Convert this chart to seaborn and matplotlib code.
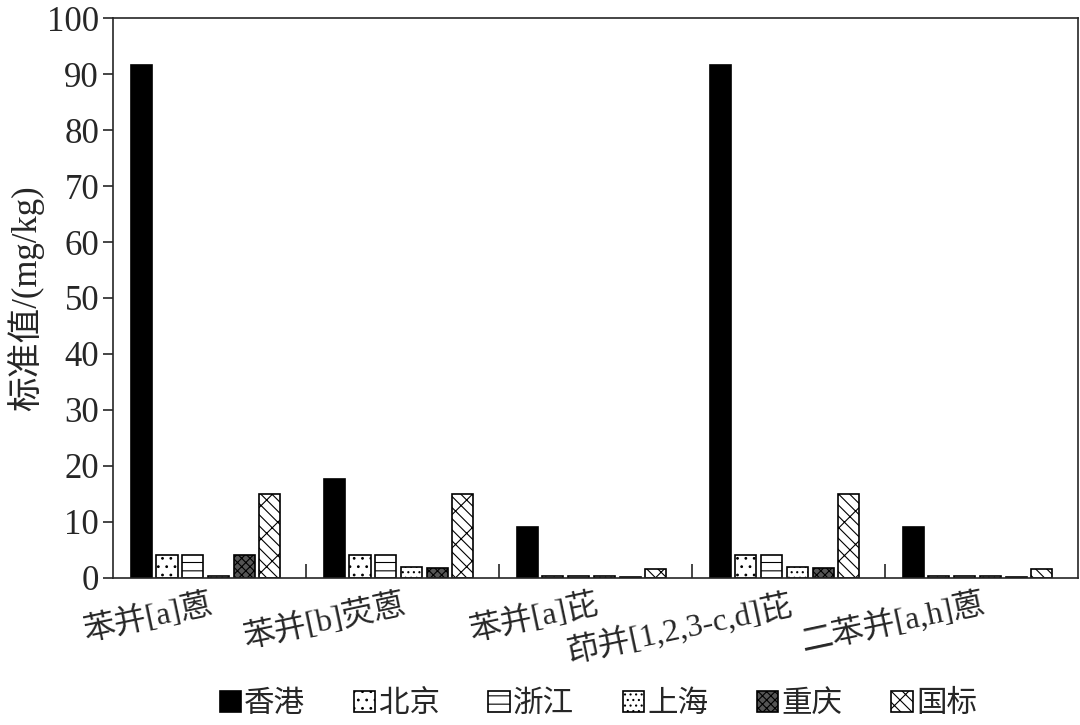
import numpy as np
import pandas as pd
import matplotlib
matplotlib.use('Agg')
import matplotlib.pyplot as plt
import seaborn as sns

# compounds and standard values (mg/kg) per region
compounds = ['苯并[a]蒽', '苯并[b]荧蒽', '苯并[a]芘', '茚并[1,2,3-c,d]芘', '二苯并[a,h]蒽']
regions = ['香港', '北京', '浙江', '上海', '重庆', '国标']
hongkong = [91.7, 17.7, 9.0, 91.7, 9.0]
beijing = [4.0, 4.0, 0.4, 4.0, 0.4]
zhejiang = [4.0, 4.0, 0.4, 4.0, 0.4]
shanghai = [0.4, 2.0, 0.4, 2.0, 0.4]
chongqing = [4.0, 1.7, 0.2, 1.7, 0.2]
guobiao = [15.0, 15.0, 1.5, 15.0, 1.5]

series = [hongkong, beijing, zhejiang, shanghai, chongqing, guobiao]
rows = []
for r, vals in zip(regions, series):
    for c, v in zip(compounds, vals):
        rows.append({'compound': c, 'region': r, 'value': v})
df = pd.DataFrame(rows)

sns.set_style('ticks')
plt.rcParams['font.family'] = ['Liberation Serif', 'Noto Sans CJK SC', 'DejaVu Sans']
plt.rcParams['hatch.linewidth'] = 0.8

fig = plt.figure(figsize=(10.8, 7.25), dpi=100)
ax = fig.add_axes([0.1046, 0.203, 0.8934, 0.772])

colors = ['black', 'white', 'white', 'white', 'white', 'white']
sns.barplot(data=df, x='compound', y='value', hue='region', palette=colors,
            edgecolor='black', linewidth=1.2, width=0.8, ax=ax)

hatches = [None, '..', '--', '...', 'xxxx', '\\\\x']
for cont, h in zip(ax.containers, hatches):
    for p in cont.patches:
        # narrow each bar a bit to leave gaps
        w = p.get_width()
        p.set_x(p.get_x() + w * 0.09 - 0.02)
        p.set_width(w * 0.82)
        if h:
            p.set_hatch(h)
        if h == 'xxxx':
            p.set_facecolor('#555555')

ax.get_legend().remove()

ax.set_xlim(-0.5, 4.5)
ax.set_ylim(0, 100)
ax.set_yticks(np.arange(0, 101, 10))
ax.set_xlabel('')
ax.set_ylabel('标准值/(mg/kg)', fontsize=25, labelpad=2)

ax.tick_params(axis='y', labelsize=25, direction='out', length=7, width=1.2, pad=3)
ax.tick_params(axis='x', which='major', length=0, labelsize=23, pad=8)
ax.set_xticks(np.arange(0.5, 4.5, 1), minor=True)
ax.tick_params(axis='x', which='minor', direction='in', length=10, width=1.2)
for lab in ax.get_xticklabels():
    lab.set_rotation(12)
    lab.set_ha('right')
    lab.set_rotation_mode('anchor')

for s in ax.spines.values():
    s.set_visible(True)
    s.set_linewidth(1.2)

fig.legend(ax.containers, regions, loc='center', bbox_to_anchor=(0.554, 0.028),
           ncol=6, frameon=False, fontsize=22, handlelength=0.7, handleheight=0.7,
           handletextpad=0.1, columnspacing=1.6)

fig.savefig('out.png', dpi=100)
